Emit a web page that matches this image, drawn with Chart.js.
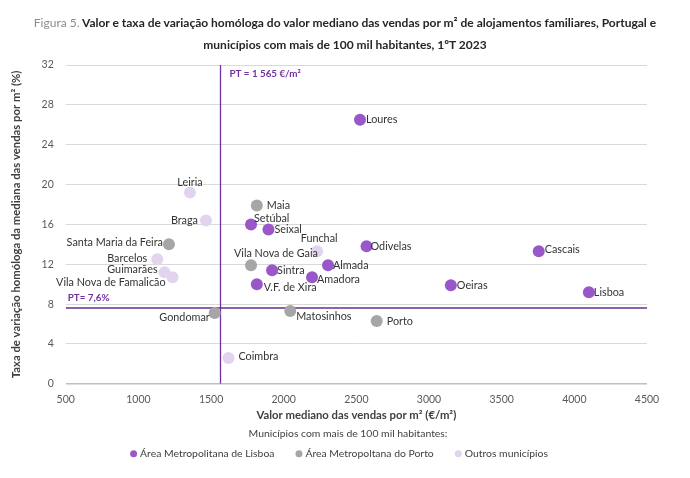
<!DOCTYPE html>
<html lang="pt">
<head>
<meta charset="utf-8">
<script src="https://cdn.jsdelivr.net/npm/chart.js@4"></script>
<style>
    html, body { margin: 0; padding: 0; background: #fff; }
    #quadro { position: relative; width: 690px; height: 478px; }
    #titulo {
        position: absolute; left: 0; top: 12px; width: 690px;
        text-align: center; font-family: Lato, sans-serif; font-weight: 700;
        font-size: 12px; line-height: 22px; color: #262626;
    }
    #titulo .fig { color: #8c8c8c; font-weight: 400; }
    canvas { position: absolute; left: 0; top: 0; }
</style>
</head>
<body>
<div id="quadro">
    <canvas id="grafico" width="690" height="478"></canvas>
    <div id="titulo"><span class="fig">Figura 5.</span> Valor e taxa de variação homóloga do valor mediano das vendas por m² de alojamentos familiares, Portugal e<br>municípios com mais de 100 mil habitantes, 1ºT 2023</div>
</div>
<script>
// ---- dados ----
const lisboaNomes = ['Loures', 'Cascais', 'Lisboa', 'Oeiras', 'Odivelas', 'Almada', 'Amadora', 'Sintra', 'V.F. de Xira', 'Setúbal', 'Seixal'];
const lisboaValor = [2525, 3755, 4100, 3150, 2570, 2305, 2195, 1920, 1815, 1775, 1895];
const lisboaTaxa = [26.5, 13.3, 9.2, 9.9, 13.8, 11.9, 10.7, 11.4, 10.0, 16.0, 15.5];

const portoNomes = ['Maia', 'Vila Nova de Gaia', 'Santa Maria da Feira', 'Gondomar', 'Matosinhos', 'Porto'];
const portoValor = [1815, 1775, 1210, 1525, 2045, 2640];
const portoTaxa = [17.9, 11.9, 14.0, 7.1, 7.3, 6.3];

const outrosNomes = ['Leiria', 'Braga', 'Barcelos', 'Guimarães', 'Vila Nova de Famalicão', 'Funchal', 'Coimbra'];
const outrosValor = [1355, 1465, 1130, 1180, 1235, 2230, 1620];
const outrosTaxa = [19.2, 16.4, 12.5, 11.2, 10.7, 13.3, 2.6];

const ptValor = 1565;   // €/m²
const ptTaxa = 7.6;     // %

const xMin = 500, xMax = 4500, xPasso = 500;
const yMin = 0, yMax = 32, yPasso = 4;

// posição dos rótulos (deslocamento em px a partir do ponto, alinhamento)
const rotulos = {
    'Loures': [6, 0, 'left'], 'Cascais': [6, -2, 'left'], 'Lisboa': [5, 0, 'left'],
    'Oeiras': [6, 0, 'left'], 'Odivelas': [4, 0, 'left'], 'Almada': [5, 0, 'left'],
    'Amadora': [5, 2, 'left'], 'Sintra': [5, 0, 'left'], 'V.F. de Xira': [7, 3, 'left'],
    'Setúbal': [3, -6, 'left'], 'Seixal': [6, 0, 'left'], 'Maia': [10, 0, 'left'],
    'Vila Nova de Gaia': [-17, -12, 'left'], 'Santa Maria da Feira': [-6, -2, 'right'],
    'Gondomar': [-5, 4, 'right'], 'Matosinhos': [6, 5, 'left'], 'Porto': [10, 0, 'left'],
    'Leiria': [0, -10, 'center'], 'Braga': [-8, 0, 'right'], 'Barcelos': [-10, -1, 'right'],
    'Guimarães': [-7, -3, 'right'], 'Vila Nova de Famalicão': [-7, 5, 'right'],
    'Funchal': [2, -13, 'center'], 'Coimbra': [10, -1, 'left'],
};

const FONTE = 'Lato, sans-serif';
const ROXO = '#7030a0';

const pontos = (vx, vy) => vx.map((v, i) => ({ x: v, y: vy[i] }));

function serie(label, nomes, vx, vy, cor) {
    return {
        type: 'scatter', label, nomes,
        data: pontos(vx, vy),
        backgroundColor: cor, borderColor: cor,
        pointRadius: 6, pointHoverRadius: 6, borderWidth: 0,
        order: 1,
    };
}

const rotulosPlugin = {
    id: 'rotulos',
    afterDatasetsDraw(chart) {
        const { ctx, scales: { x, y }, chartArea } = chart;
        ctx.save();
        ctx.font = '10.8px ' + FONTE;
        ctx.fillStyle = '#333';
        ctx.textBaseline = 'middle';
        chart.data.datasets.forEach((ds, di) => {
            if (!ds.nomes) return;
            chart.getDatasetMeta(di).data.forEach((pt, i) => {
                const nome = ds.nomes[i];
                const [dx, dy, al] = rotulos[nome] || [6, 0, 'left'];
                ctx.textAlign = al;
                ctx.fillText(nome, pt.x + dx, pt.y + dy);
            });
        });
        // anotações PT
        ctx.font = 'bold 9.8px ' + FONTE;
        ctx.fillStyle = ROXO;
        ctx.textAlign = 'left';
        ctx.fillText('PT = 1 565 €/m²', x.getPixelForValue(ptValor) + 9, chartArea.top + 9);
        ctx.fillText('PT= 7,6%', chartArea.left + 2, y.getPixelForValue(ptTaxa) - 10);
        ctx.restore();
    },
};

// legenda desenhada à mão (título + 3 grupos) por baixo do eixo x
const legendaPlugin = {
    id: 'legenda',
    afterDraw(chart) {
        const { ctx, chartArea, width } = chart;
        const grupos = chart.data.datasets.filter((d) => d.nomes);
        ctx.save();
        ctx.font = '10.4px ' + FONTE;
        ctx.fillStyle = '#404040';
        ctx.textBaseline = 'middle';
        ctx.textAlign = 'center';
        ctx.fillText('Municípios com mais de 100 mil habitantes:', width / 2 + 3, chartArea.bottom + 50);

        const r = 3.5, gap = 3, espaco = 21;
        const larguras = grupos.map((d) => 2 * r + gap + ctx.measureText(d.label).width);
        const total = larguras.reduce((a, b) => a + b, 0) + espaco * (grupos.length - 1);
        let cx = width / 2 - 6 - total / 2;
        const cy = chartArea.bottom + 70;
        ctx.textAlign = 'left';
        grupos.forEach((d, i) => {
            ctx.beginPath();
            ctx.fillStyle = d.backgroundColor;
            ctx.arc(cx + r, cy, r, 0, Math.PI * 2);
            ctx.fill();
            ctx.fillStyle = '#404040';
            ctx.fillText(d.label, cx + 2 * r + gap, cy);
            cx += larguras[i] + espaco;
        });
        ctx.restore();
    },
};

new Chart(document.getElementById('grafico'), {
    type: 'scatter',
    data: {
        datasets: [
            serie('Área Metropolitana de Lisboa', lisboaNomes, lisboaValor, lisboaTaxa, '#9a57c9'),
            serie('Área Metropoltana do Porto', portoNomes, portoValor, portoTaxa, '#a6a6a6'),
            serie('Outros municípios', outrosNomes, outrosValor, outrosTaxa, '#e2d4ee'),
            {
                type: 'line', label: 'ptv',
                data: [{ x: ptValor, y: yMin }, { x: ptValor, y: yMax }],
                borderColor: ROXO, borderWidth: 1.3, pointRadius: 0, order: 2,
            },
            {
                type: 'line', label: 'pth',
                data: [{ x: xMin, y: ptTaxa }, { x: xMax, y: ptTaxa }],
                borderColor: '#8a64ab', borderWidth: 2, pointRadius: 0, order: 2,
            },
        ],
    },
    options: {
        responsive: false,
        animation: false,
        events: [],
        layout: { padding: { top: 65, right: 43, left: 6, bottom: 56 } },
        scales: {
            x: {
                type: 'linear', min: xMin, max: xMax,
                ticks: {
                    stepSize: xPasso, color: '#595959', font: { family: FONTE, size: 10.5 }, padding: 9,
                    callback: (v) => String(v),
                },
                grid: { display: false, drawTicks: false },
                border: { display: false },
                title: {
                    display: true, text: 'Valor mediano das vendas por m² (€/m²)',
                    color: '#404040', font: { family: FONTE, size: 11.3, weight: 'bold' }, padding: { top: -6, bottom: 0 },
                },
            },
            y: {
                min: yMin, max: yMax,
                ticks: { stepSize: yPasso, color: '#595959', font: { family: FONTE, size: 10.5 }, padding: 12 },
                grid: {
                    drawTicks: false,
                    color: (c) => (c.tick && c.tick.value === 0 ? '#bfbfbf' : '#d9d9d9'),
                    lineWidth: (c) => (c.tick && c.tick.value === 0 ? 1.5 : 1),
                },
                border: { display: false },
                title: {
                    display: true, text: 'Taxa de variação homóloga da mediana das vendas por m² (%)',
                    color: '#404040', font: { family: FONTE, size: 11.3, weight: 'bold' }, padding: { bottom: 6 },
                },
            },
        },
        plugins: {
            tooltip: { enabled: false },
            legend: { display: false },
        },
    },
    plugins: [rotulosPlugin, legendaPlugin],
});
</script>
</body>
</html>
